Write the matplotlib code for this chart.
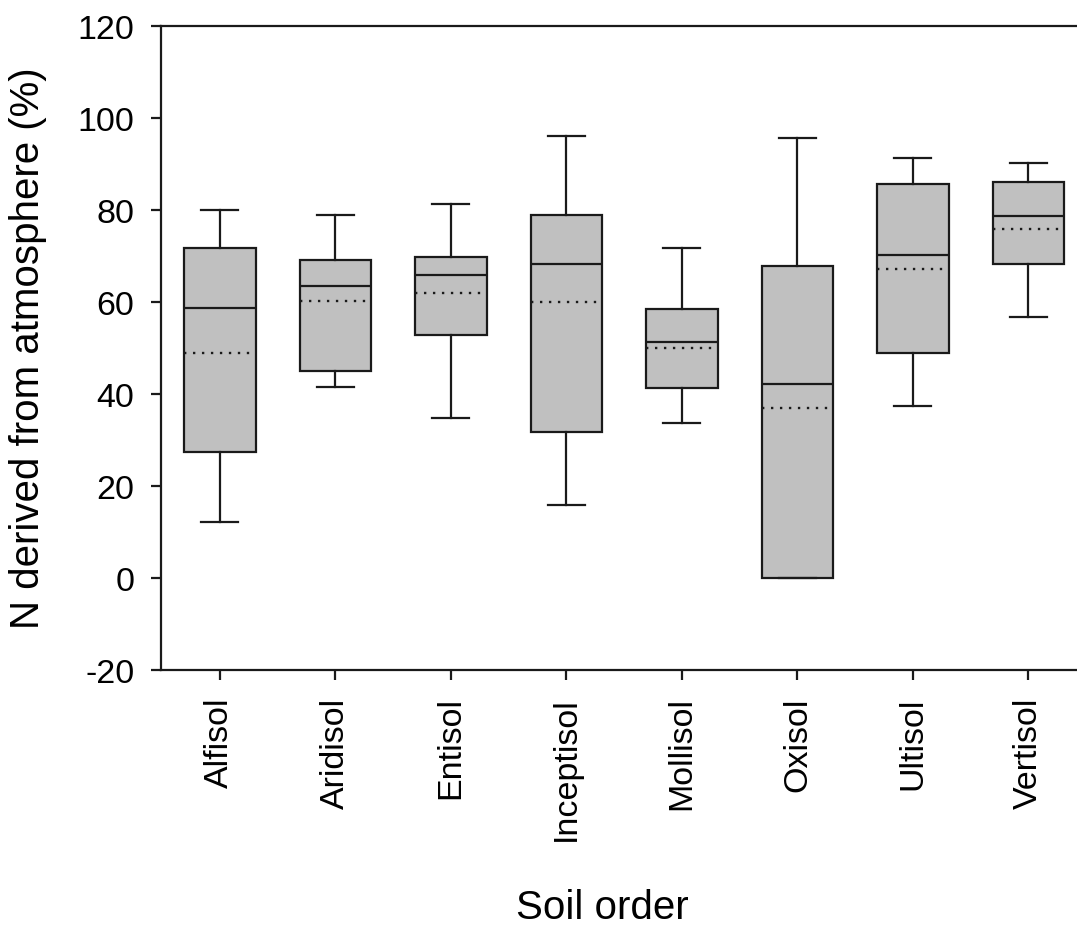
import matplotlib
matplotlib.use("Agg")
import matplotlib.pyplot as plt

plt.rcParams['font.family'] = ['Liberation Sans', 'DejaVu Sans']
plt.rcParams['axes.unicode_minus'] = False

# soil orders and box statistics
orders = ["Alfisol", "Aridisol", "Entisol", "Inceptisol", "Mollisol", "Oxisol", "Ultisol", "Vertisol"]
whisk_lo = [12.1, 41.6, 34.7, 15.9, 33.8, 0.0, 37.3, 56.7]
q1 = [27.5, 45.0, 52.8, 31.8, 41.3, 0.0, 48.9, 68.2]
median = [58.8, 63.5, 65.8, 68.2, 51.3, 42.1, 70.2, 78.6]
mean = [48.9, 60.3, 61.9, 60.0, 50.0, 37.0, 67.1, 75.8]
q3 = [71.8, 69.1, 69.8, 78.9, 58.4, 67.9, 85.7, 86.1]
whisk_hi = [80.0, 78.9, 81.3, 96.0, 71.8, 95.6, 91.2, 90.3]

yticks = [-20, 0, 20, 40, 60, 80, 100, 120]

stats = []
for i in range(len(orders)):
    stats.append(dict(label=orders[i], whislo=whisk_lo[i], q1=q1[i], med=median[i],
                      mean=mean[i], q3=q3[i], whishi=whisk_hi[i], fliers=[]))

fig = plt.figure(figsize=(10.77, 9.28), dpi=100)
ax = fig.add_axes([161/1077, 1-671/928, 1-161/1077, (671-27)/928])

edge = "#1a1a1a"
pos = list(range(1, len(orders) + 1))
ax.bxp(stats, positions=pos, widths=0.62, capwidths=0.32, patch_artist=True,
       showmeans=True, meanline=True, showfliers=False,
       boxprops=dict(facecolor="#c0c0c0", edgecolor=edge, linewidth=1.6),
       medianprops=dict(color=edge, linewidth=1.6),
       meanprops=dict(color=edge, linewidth=1.7, linestyle=(0, (1, 2.8))),
       whiskerprops=dict(color=edge, linewidth=1.6),
       capprops=dict(color=edge, linewidth=1.6))

ax.set_xlim(0.49, 8.42)
ax.set_ylim(-20, 120)
ax.set_yticks(yticks)
ax.set_xticks(pos)
ax.set_xticklabels(orders, rotation=90)

for s in ["left", "top", "bottom"]:
    ax.spines[s].set_linewidth(1.6)
    ax.spines[s].set_color(edge)
ax.spines["right"].set_visible(False)

ax.tick_params(axis="both", direction="out", length=7, width=1.6, color=edge,
               labelsize=24.5, pad=12)

fig.text(28/1077, 1-348/928, "N derived from atmosphere (%)", rotation=90,
         ha="center", va="center", fontsize=29)
fig.text(602/1077, 1-908/928, "Soil order", ha="center", va="center", fontsize=29)

fig.savefig("out.png", dpi=100)
